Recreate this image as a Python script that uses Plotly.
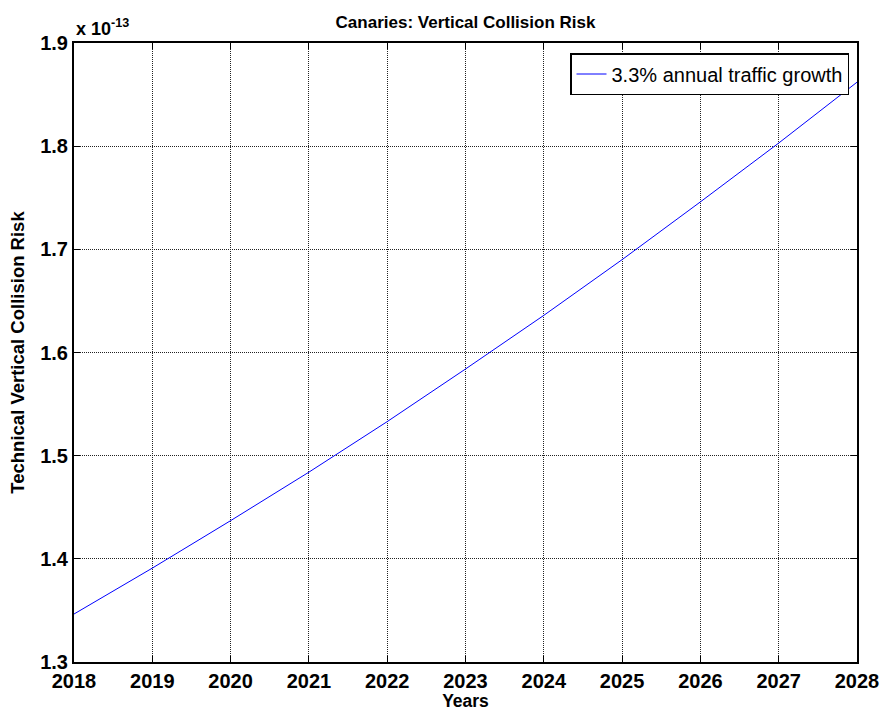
import plotly.graph_objects as go

# Annual values, technical vertical collision risk (in units of 1e-13)
years = [2018, 2019, 2020, 2021, 2022, 2023, 2024, 2025, 2026, 2027, 2028]
risk = [1.3465, 1.391, 1.437, 1.484, 1.533, 1.584, 1.636, 1.690, 1.746, 1.803, 1.862]
series_name = "3.3% annual traffic growth"

x_ticks = years
y_ticks = [1.3, 1.4, 1.5, 1.6, 1.7, 1.8, 1.9]
y_tick_text = ["1.3", "1.4", "1.5", "1.6", "1.7", "1.8", "1.9"]

FONT = "Liberation Sans, Arial, Helvetica, sans-serif"

fig = go.Figure()
fig.add_trace(go.Scatter(
    x=years, y=risk, mode="lines", name=series_name,
    line=dict(color="#0000ff", width=1),
))

axis_common = dict(
    showline=True, linecolor="black", linewidth=2, mirror="ticks",
    ticks="inside", ticklen=6, tickcolor="black", tickwidth=1,
    showgrid=True, gridcolor="#222222", griddash="1px,1px", gridwidth=1,
    zeroline=False, automargin=False,
    tickfont=dict(family=FONT, size=20, color="black", weight="bold"),
)

fig.update_layout(
    width=885, height=711,
    margin=dict(l=74, r=28, t=43, b=49),
    paper_bgcolor="white", plot_bgcolor="white",
    font=dict(family=FONT, color="black"),
    title=dict(
        text="<b>Canaries: Vertical Collision Risk</b>",
        x=(74 + 857) / 2 / 885, xanchor="center",
        y=1 - 22 / 711, yanchor="middle",
        font=dict(family=FONT, size=17, color="black"),
    ),
    xaxis=dict(
        range=[2018, 2028], tickvals=x_ticks, ticktext=[str(v) for v in x_ticks],
        title=dict(text="<b>Years</b>", font=dict(family=FONT, size=17.5), standoff=0),
        ticklabelstandoff=0,
        **axis_common,
    ),
    yaxis=dict(
        range=[1.3, 1.9], tickvals=y_ticks, ticktext=y_tick_text,
        title=dict(text="<b>Technical Vertical Collision Risk</b>", font=dict(family=FONT, size=18.5), standoff=11),
        **axis_common,
    ),
    showlegend=True,
    legend=dict(
        x=(849 - 74) / 783, xanchor="right", y=(662 - 53) / 619, yanchor="top",
        bgcolor="white", bordercolor="black", borderwidth=1.5,
        font=dict(family=FONT, size=20, color="black"),
        itemwidth=30, tracegroupgap=0,
    ),
    annotations=[dict(
        text="<b>x 10<sup>-13</sup></b>",
        xref="paper", yref="paper", x=0, y=1, xanchor="left", yanchor="bottom",
        yshift=2, showarrow=False,
        font=dict(family=FONT, size=18, color="black"),
    )],
)

fig.write_html("out.html")
